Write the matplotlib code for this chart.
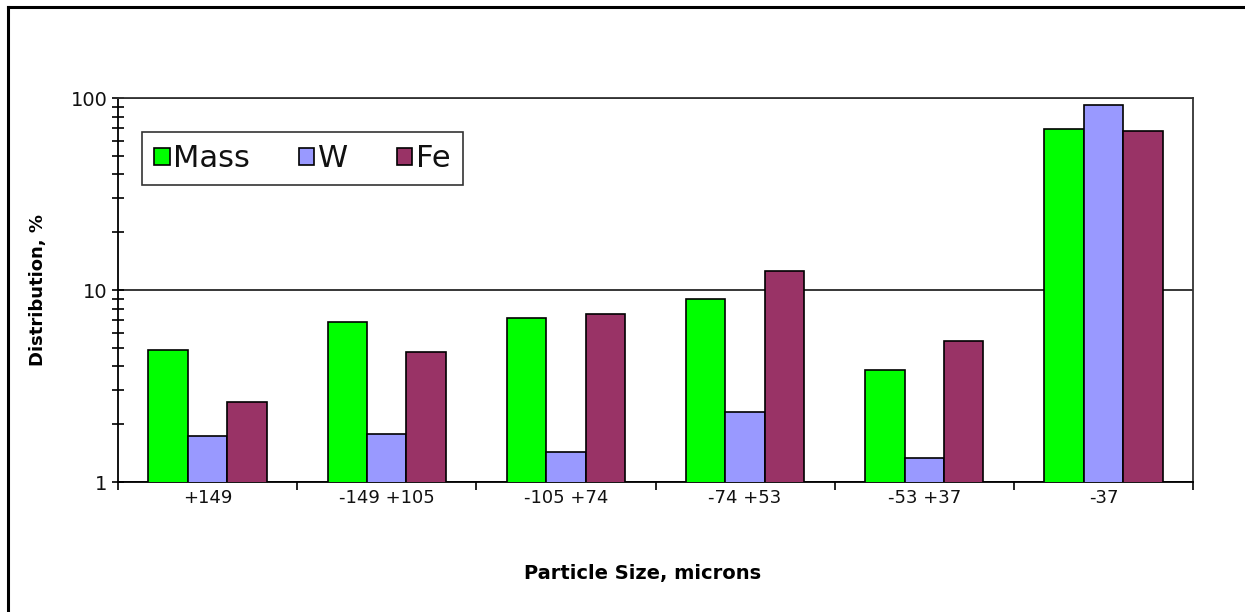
import matplotlib
matplotlib.use("Agg")
import matplotlib.pyplot as plt
import numpy as np
from matplotlib.lines import Line2D
from matplotlib.ticker import LogLocator, NullFormatter, FixedLocator

categories = ["+149", "-149 +105", "-105 +74", "-74 +53", "-53 +37", "-37"]
mass = [4.87, 6.8, 7.15, 8.98, 3.83, 69.0]
w = [1.74, 1.78, 1.43, 2.31, 1.33, 92.0]
fe = [2.61, 4.76, 7.5, 12.6, 5.43, 67.3]
series_names = ["Mass", "W", "Fe"]
colors = ["#00ff00", "#9999ff", "#993366"]

plt.rcParams['font.family'] = ['DejaVu Sans']

fig = plt.figure(figsize=(12.45, 6.12), dpi=100)
ax = fig.add_axes([118/1245, 1-482/612, (1193-118)/1245, (482-98)/612])

x = np.arange(len(categories))
bw = 0.22
for i, (vals, name, c) in enumerate(zip([mass, w, fe], series_names, colors)):
    ax.bar(x + (i-1)*bw, vals, width=bw, color=c, edgecolor='black',
           linewidth=1.2, label=name, zorder=3)

ax.set_yscale('log')
ax.set_ylim(1, 100)
ax.set_xlim(-0.5, len(categories)-0.5)
ax.yaxis.set_major_locator(FixedLocator([1, 10, 100]))
ax.set_yticklabels(["1", "10", "100"])
ax.yaxis.set_minor_locator(LogLocator(base=10, subs=np.arange(2, 10)))
ax.yaxis.set_minor_formatter(NullFormatter())
ax.tick_params(axis='y', which='both', direction='inout', length=9, width=1.2,
               labelsize=14, pad=3, colors='black', labelcolor='#111111')

ax.set_xticks(np.arange(-0.5, len(categories)), labels=[""]*(len(categories)+1))
ax.set_xticks(x, labels=categories, minor=True)
ax.tick_params(axis='x', which='major', direction='out', length=6, width=1.2)
ax.tick_params(axis='x', which='minor', length=0, labelsize=13, pad=5,
               labelcolor='#111111')

ax.grid(axis='y', which='major', color='black', linewidth=1.1, zorder=0)
for s in ax.spines.values():
    s.set_linewidth(1.3)
    s.set_color('black')
ax.spines['top'].set_color('#333333')
ax.spines['right'].set_color('#333333')

ax.set_ylabel("Distribution, %", fontsize=13, fontweight='bold')
ax.yaxis.set_label_coords(-(118-38)/1075, 0.5)
ax.set_xlabel("Particle Size, microns", fontsize=14, fontweight='bold')
ax.xaxis.set_label_coords((643-118)/1075, -(574-482)/384)
ax.xaxis.label.set_va('center')
ax.yaxis.label.set_va('center')

leg = ax.legend(loc='upper left', bbox_to_anchor=(24/1075, 1-34/384), ncol=3,
                fontsize=22, frameon=True, fancybox=False, handlelength=0.5,
                handleheight=0.5, handletextpad=0.12, columnspacing=1.6,
                borderpad=0.4, borderaxespad=0)
leg.get_frame().set_edgecolor('black')
leg.get_frame().set_linewidth(1.2)
for t in leg.get_texts():
    t.set_color('#111111')

# outer chart frame (top and left edges visible)
fig.add_artist(Line2D([8/1245, 1], [1-7/612, 1-7/612], color='black', linewidth=2.2, transform=fig.transFigure))
fig.add_artist(Line2D([8/1245, 8/1245], [0, 1-7/612], color='black', linewidth=2.2, transform=fig.transFigure))

fig.savefig("out.png", dpi=100)
